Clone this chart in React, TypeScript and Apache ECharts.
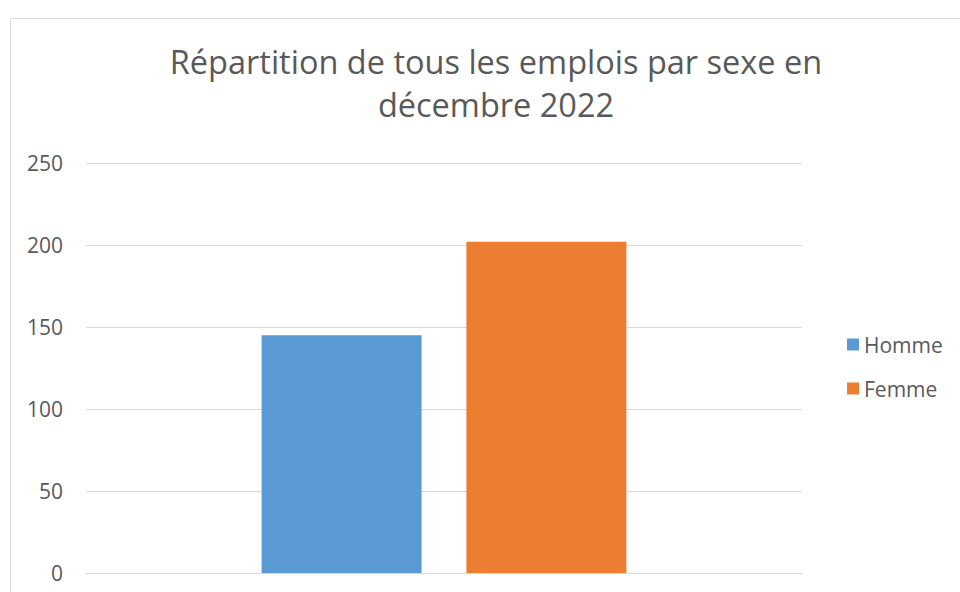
import React, { useEffect, useRef } from "react";
import * as echarts from "echarts";

const title = "Répartition de tous les emplois par sexe en\ndécembre 2022";
const categories = [""];
const seriesNames = ["Homme", "Femme"];
const hommeValues = [145];
const femmeValues = [202];
const yTicks = { min: 0, max: 250, interval: 50 };

export default function App() {
  const ref = useRef<HTMLDivElement>(null);
  useEffect(() => {
    if (!ref.current) return;
    const chart = echarts.init(ref.current, null, { renderer: "svg" });
    const font = "'Open Sans', 'Noto Sans', sans-serif";
    chart.setOption({
      animation: false,
      backgroundColor: "#ffffff",
      textStyle: { fontFamily: font },
      graphic: [
        {
          type: "rect",
          shape: { x: 10.5, y: 18.5, width: 980, height: 600 },
          style: { fill: "none", stroke: "#d9d9d9", lineWidth: 1 },
          silent: true,
        },
      ],
      title: {
        text: title,
        left: 491,
        textAlign: "center",
        top: 35,
        textStyle: {
          fontFamily: font,
          fontSize: 32.5,
          fontWeight: "normal",
          color: "#595959",
          lineHeight: 43,
        },
      },
      legend: {
        orient: "vertical",
        left: 842,
        top: 329,
        itemWidth: 12,
        itemHeight: 12,
        itemGap: 23,
        icon: "rect",
        data: seriesNames,
        textStyle: { fontFamily: font, fontSize: 21, color: "#595959" },
      },
      grid: { left: 86, right: 158, top: 163, bottom: 19, containLabel: false },
      xAxis: {
        type: "category",
        data: categories,
        axisLine: { show: true, lineStyle: { color: "#d9d9d9", width: 1 } },
        axisTick: { show: false },
        axisLabel: { show: false },
      },
      yAxis: {
        type: "value",
        min: yTicks.min,
        max: yTicks.max,
        interval: yTicks.interval,
        axisLine: { show: false },
        axisTick: { show: false },
        axisLabel: { fontFamily: font, fontSize: 21, color: "#595959", margin: 23 },
        splitLine: { lineStyle: { color: "#d9d9d9", width: 1 } },
      },
      series: [
        {
          name: seriesNames[0],
          type: "bar",
          data: hommeValues,
          barWidth: 160,
          barGap: "28%",
          itemStyle: { color: "#5B9BD5" },
        },
        {
          name: seriesNames[1],
          type: "bar",
          data: femmeValues,
          barWidth: 160,
          barGap: "28%",
          itemStyle: { color: "#ED7D31" },
        },
      ],
    });
    return () => chart.dispose();
  }, []);
  return (
    <div
      ref={ref}
      style={{ position: "fixed", left: 0, top: 0, width: 960, height: 592 }}
    />
  );
}
